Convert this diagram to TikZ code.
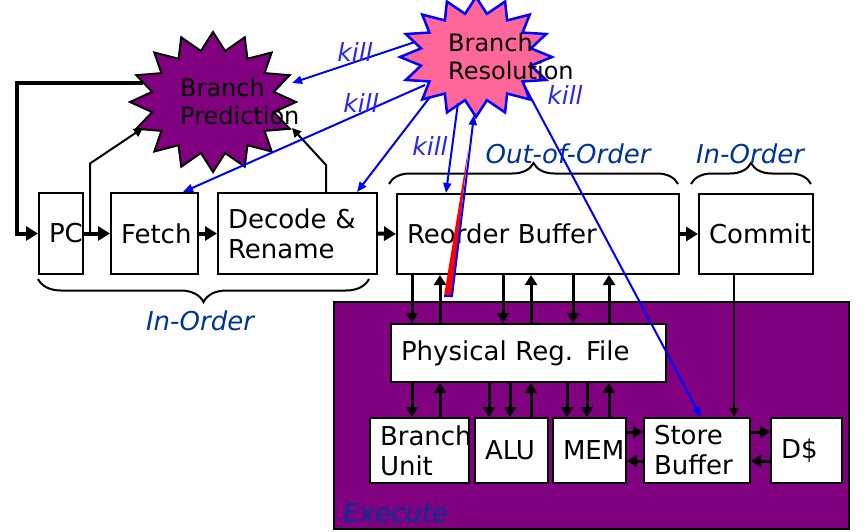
\documentclass[tikz,border=0pt]{standalone}
\usepackage{fontspec}
\setmainfont{DejaVu Sans}
\usetikzlibrary{arrows.meta,decorations.pathreplacing,calc}
\definecolor{execpurple}{RGB}{128,0,128}
\definecolor{pinkres}{RGB}{255,102,153}
\definecolor{lblue}{RGB}{0,51,153}
\definecolor{killblue}{RGB}{40,40,240}
\tikzset{
 bx/.style={draw, line width=2pt, fill=white, anchor=north west, inner xsep=10pt, inner ysep=0pt, align=left, font=\fontsize{26}{30}\selectfont},
 thk/.style={line width=4pt, -{Triangle[length=12pt,width=14pt]}},
 med/.style={line width=3pt, -{Triangle[length=10pt,width=12pt]}},
 thn/.style={line width=2pt, -{Triangle[length=9pt,width=9pt]}},
 thinarr/.style={line width=1.5pt, -{Triangle[length=9pt,width=9pt]}},
 kl/.style={line width=2pt, draw=blue, -{Triangle[length=10pt,width=8pt]}},
 killtxt/.style={text=killblue, font=\fontsize{25}{30}\selectfont\itshape, anchor=base, inner sep=0pt},
 lbl/.style={text=lblue, font=\fontsize{26}{30}\selectfont\itshape, anchor=base, inner sep=0pt},
 startxt/.style={font=\fontsize{24}{28}\selectfont, align=left, inner sep=0pt, anchor=west},
 brc/.style={decorate, line width=2pt},
}
\begin{document}
\begin{tikzpicture}[x=1pt,y=-1pt]
\useasboundingbox (0,0) rectangle (864,532);

% Execute region
\node[draw, line width=2pt, fill=execpurple, anchor=north west, minimum width=515pt, minimum height=227pt, inner sep=0pt] (exec) at (333,301) {};
\node[lbl, anchor=base west] (exlbl) at (343,522) {Execute};

% boxes
\node[bx, minimum width=44pt, minimum height=81pt, text width=24pt] (pc) at (38,192) {PC};
\node[bx, minimum width=87pt, minimum height=81pt, text width=67pt] (fetch) at (110,192) {Fetch};
\node[bx, minimum width=159pt, minimum height=81pt, text width=139pt] (dec) at (217,192) {Decode \&\\Rename};
\node[bx, minimum width=282pt, minimum height=80pt, text width=262pt] (rob) at (396,193) {Reorder Buffer};
\node[bx, minimum width=114pt, minimum height=80pt, text width=94pt] (commit) at (698,193) {Commit};
\node[bx, minimum width=275pt, minimum height=58pt, text width=255pt] (prf) at (390,323) {Physical Reg. File};
\node[bx, minimum width=99pt, minimum height=65pt, text width=79pt] (bu) at (369,417) {Branch\\Unit};
\node[bx, minimum width=73pt, minimum height=65pt, text width=53pt] (alu) at (474,417) {ALU};
\node[bx, minimum width=73pt, minimum height=65pt, text width=53pt] (mem) at (552,417) {MEM};
\node[bx, minimum width=106pt, minimum height=65pt, text width=86pt] (sb) at (643,417) {Store\\Buffer};
\node[bx, minimum width=71pt, minimum height=65pt, text width=51pt] (dc) at (770,417) {D\$};

% pipeline arrows
\draw[thk] (pc.east) -- (fetch.west);
\draw[thk] (fetch.east) -- (dec.west);
\draw[thk] (dec.east) -- (rob.west);
\draw[thk] (rob.east) -- (commit.west);

% feedback to PC and to predictor
\coordinate (bpL) at (143,83);
\coordinate (bpSW) at (143,128);
\coordinate (bpSE) at (292,128);
\draw[thk] (bpL) -- ++(-126,0) |- (pc.west);
\draw[thn] ([xshift=6pt]pc.east) -- ++(0,-70) -- (bpSW);
\draw[thn] ([xshift=109pt]dec.north west) -- ++(0,-27) -- (bpSE);

% ROB <-> PRF
\foreach \x in {412,503,573} \draw[med] (rob.south -| \x,0) -- (prf.north -| \x,0);
\foreach \x in {440,531,609} \draw[med] (prf.north -| \x,0) -- (rob.south -| \x,0);
% PRF <-> units
\draw[med] (prf.south -| 412,0) -- (bu.north -| 412,0);
\draw[med] (bu.north -| 440,0) -- (prf.south -| 440,0);
\foreach \x in {489,510} \draw[med] (prf.south -| \x,0) -- (alu.north -| \x,0);
\draw[med] (alu.north -| 531,0) -- (prf.south -| 531,0);
\foreach \x in {567,587} \draw[med] (prf.south -| \x,0) -- (mem.north -| \x,0);
\draw[med] (mem.north -| 609,0) -- (prf.south -| 609,0);
% MEM <-> SB <-> D$
\draw[med] (mem.east |- 0,432) -- (sb.west |- 0,432);
\draw[med] (sb.west |- 0,461) -- (mem.east |- 0,461);
\draw[med] (sb.east |- 0,432) -- (dc.west |- 0,432);
\draw[med] (dc.west |- 0,461) -- (sb.east |- 0,461);
% commit -> store buffer
\draw[thinarr] (commit.south -| 734,0) -- (sb.north -| 734,0);

% Branch Prediction star
\filldraw[fill=execpurple, draw=black, line width=2pt] plot[samples at={0,...,31}, variable=\k] ({213+ifthenelse(isodd(\k),62,83)*cos(90+11.25*\k)},{102-ifthenelse(isodd(\k),52,70)*sin(90+11.25*\k)}) -- cycle;
\node[startxt] (bp) at (180,102) {Branch\\Prediction};

% Branch Resolution star
\filldraw[fill=pinkres, draw=blue, line width=2.5pt] plot[samples at={0,...,31}, variable=\k] ({476+ifthenelse(isodd(\k),56,76)*cos(90+11.25*\k)},{57-ifthenelse(isodd(\k),44,60)*sin(90+11.25*\k)}) -- cycle;
\node[startxt] (br) at (448,57) {Branch\\Resolution};

% braces
\draw[brc, decoration={brace, amplitude=21pt}] (389,184) -- (678,184);
\draw[brc, decoration={brace, amplitude=21pt}] (691,184) -- (811,184);
\draw[brc, decoration={brace, mirror, amplitude=23pt}] (38,279) -- (369,279);
\node[lbl] (l1) at (568,163) {Out-of-Order};
\node[lbl] (l2) at (750,163) {In-Order};
\node[lbl] (l3) at (200,330) {In-Order};

% kill arrows
\coordinate (brA) at (415,42);
\coordinate (bpR) at (292,83);
\coordinate (brB) at (425,85);
\coordinate (brC) at (430,97);
\coordinate (brD) at (458,103);
\coordinate (brE) at (474,115);
\coordinate (brF) at (523,83);
\coordinate (wL) at (444,296);
\coordinate (wR) at (452,296);
\coordinate (wT) at (468,150);
\draw[kl] (brA) -- (bpR);
\draw[kl] (brB) -- ([xshift=73pt]fetch.north west);
\draw[kl] (brC) -- ([xshift=-21pt]dec.north east);
\draw[kl] (brD) -- ([xshift=50pt]rob.north west);
\fill[red] (wL) -- (wR) -- (wT) -- cycle;
\draw[kl] (wL) -- (wR) -- (brE);
\draw[kl] (brF) -- ([xshift=58pt]sb.north west);

\node[killtxt] (k1) at (355,62) {kill};
\node[killtxt] (k2) at (361,113) {kill};
\node[killtxt] (k3) at (430,155) {kill};
\node[killtxt] (k4) at (565,105) {kill};
\end{tikzpicture}
\end{document}
